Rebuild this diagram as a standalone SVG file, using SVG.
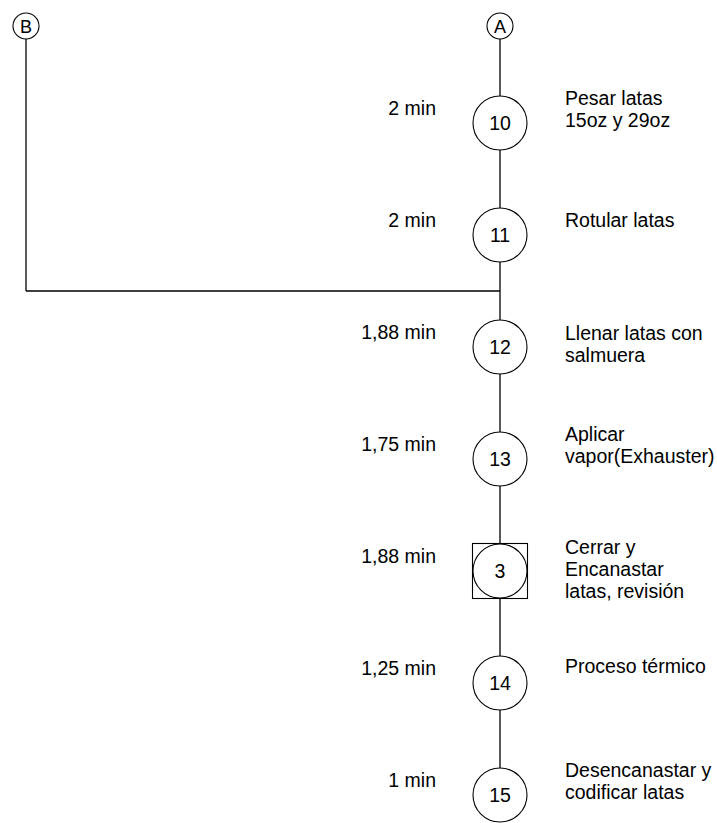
<svg xmlns="http://www.w3.org/2000/svg" width="717" height="823" viewBox="0 0 717 823">
<style>
.ln{stroke:#000;stroke-width:1.3;fill:none}
.nd{stroke:#000;stroke-width:1.1;fill:#fff}
text{font-family:"Liberation Sans",Arial,sans-serif;font-size:19.5px;fill:#000}
.c{text-anchor:middle}
.l{text-anchor:end}
.ref{font-size:18px}
</style>
<rect width="717" height="823" fill="#fff"/>
<g id="connectors">
<line class="ln" x1="500" y1="39" x2="500" y2="768"/>
<line class="ln" x1="26" y1="39" x2="26" y2="291"/>
<line class="ln" x1="26" y1="291" x2="500" y2="291"/>
</g>
<g id="nodeA"><circle class="nd" cx="500" cy="26" r="13"/><text class="c ref" x="500" y="32.5">A</text></g>
<g id="nodeB"><circle class="nd" cx="26" cy="26" r="13"/><text class="c ref" x="26" y="32.5">B</text></g>
<g id="node10"><circle class="nd" cx="500" cy="123" r="27"/><text class="c" x="500" y="130">10</text>
<text class="l" x="436" y="115">2 min</text><text x="565" y="105">Pesar latas</text><text x="565" y="127">15oz y 29oz</text></g>
<g id="node11"><circle class="nd" cx="500" cy="235" r="27"/><text class="c" x="500" y="242">11</text>
<text class="l" x="436" y="227">2 min</text><text x="565" y="227">Rotular latas</text></g>
<g id="node12"><circle class="nd" cx="500" cy="347" r="27"/><text class="c" x="500" y="354">12</text>
<text class="l" x="436" y="339">1,88 min</text><text x="565" y="340">Llenar latas con</text><text x="565" y="362">salmuera</text></g>
<g id="node13"><circle class="nd" cx="500" cy="459" r="27"/><text class="c" x="500" y="466">13</text>
<text class="l" x="436" y="451">1,75 min</text><text x="565" y="441">Aplicar</text><text x="565" y="463">vapor(Exhauster)</text></g>
<g id="node3"><rect class="nd" x="472.5" y="543.5" width="55" height="55"/><circle class="nd" cx="500" cy="571" r="27"/><text class="c" x="500" y="578">3</text>
<text class="l" x="436" y="563">1,88 min</text><text x="565" y="554">Cerrar y</text><text x="565" y="576">Encanastar</text><text x="565" y="598">latas, revisión</text></g>
<g id="node14"><circle class="nd" cx="500" cy="683" r="27"/><text class="c" x="500" y="690">14</text>
<text class="l" x="436" y="675">1,25 min</text><text x="565" y="673">Proceso térmico</text></g>
<g id="node15"><circle class="nd" cx="500" cy="795" r="27"/><text class="c" x="500" y="802">15</text>
<text class="l" x="436" y="787">1 min</text><text x="565" y="777">Desencanastar y</text><text x="565" y="799">codificar latas</text></g>
</svg>
